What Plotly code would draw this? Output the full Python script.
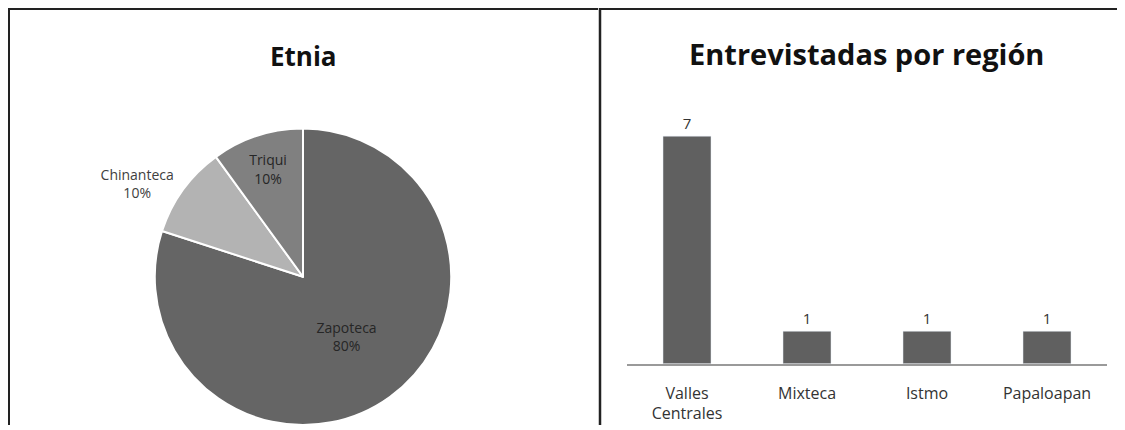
import plotly.graph_objects as go

# page body has an 8px margin; lay the figure out in window pixels and shift
OFF = 8
WIN_W, WIN_H = 1125, 430
W, H = WIN_W - OFF, WIN_H - OFF

# ---- data ----
etnias = ["Zapoteca", "Chinanteca", "Triqui"]
etnia_vals = [80, 10, 10]
etnia_colors = ["#656565", "#b3b3b3", "#808080"]

regiones = ["Valles<br>Centrales", "Mixteca", "Istmo", "Papaloapan"]
entrevistadas = [7, 1, 1, 1]

FONT = "Open Sans"

def px_x(x):
    return min(max((x - OFF) / W, 0), 1)

def px_y(y):
    return min(max(1 - (y - OFF) / H, 0), 1)

fig = go.Figure()

# pie
cx, cy, r = 303, 280, 150
fig.add_trace(go.Pie(
    labels=etnias, values=etnia_vals, sort=False, direction="clockwise",
    rotation=0,
    marker=dict(colors=etnia_colors, line=dict(color="white", width=2)),
    texttemplate="%{label}<br>%{percent:.0%}",
    textposition=["inside", "outside", "inside"],
    insidetextorientation="horizontal",
    textfont=dict(family=FONT, size=14, color="#262626"),
    outsidetextfont=dict(family=FONT, size=14, color="#404040"),
    domain=dict(x=[px_x(cx - r), px_x(cx + r)], y=[px_y(cy + r), px_y(cy - r)]),
    showlegend=False, hoverinfo="label+percent",
))

# bars
fig.add_trace(go.Bar(
    x=regiones, y=entrevistadas, marker=dict(color="#606060"),
    width=0.4, text=entrevistadas, textposition="outside",
    textfont=dict(family=FONT, size=15, color="#333333"),
    cliponaxis=False, showlegend=False,
))

fig.update_layout(
    width=W, height=H,
    margin=dict(l=0, r=0, t=0, b=0),
    paper_bgcolor="white", plot_bgcolor="white",
    font=dict(family=FONT, color="#333333"),
    xaxis=dict(domain=[px_x(627), px_x(1107)], showgrid=False, showline=True,
               linecolor="#9a9a9a", linewidth=1.5, ticks="",
               tickfont=dict(family=FONT, size=16, color="#333333"),
               ticklabelstandoff=14),
    yaxis=dict(domain=[px_y(368), px_y(90)], range=[0, 8.45], visible=False),
    annotations=[
        dict(text="<b>Etnia</b>", x=px_x(303), y=px_y(57), xref="paper", yref="paper",
             showarrow=False, font=dict(family=FONT, size=26, color="#111111"),
             xanchor="center", yanchor="middle"),
        dict(text="<b>Entrevistadas por región</b>", x=px_x(866), y=px_y(54),
             xref="paper", yref="paper", showarrow=False,
             font=dict(family=FONT, size=29, color="#111111"),
             xanchor="center", yanchor="middle"),
    ],
    shapes=[
        dict(type="line", xref="paper", yref="paper", x0=px_x(8), x1=px_x(598),
             y0=px_y(9), y1=px_y(9), line=dict(color="#222222", width=2)),
        dict(type="line", xref="paper", yref="paper", x0=px_x(9), x1=px_x(9),
             y0=px_y(8), y1=0, line=dict(color="#222222", width=2)),
        dict(type="line", xref="paper", yref="paper", x0=px_x(600), x1=px_x(600),
             y0=px_y(8), y1=0, line=dict(color="#222222", width=2.5)),
        dict(type="line", xref="paper", yref="paper", x0=px_x(600), x1=1,
             y0=px_y(9), y1=px_y(9), line=dict(color="#222222", width=2)),
    ],
)

fig.write_html("out.html")
